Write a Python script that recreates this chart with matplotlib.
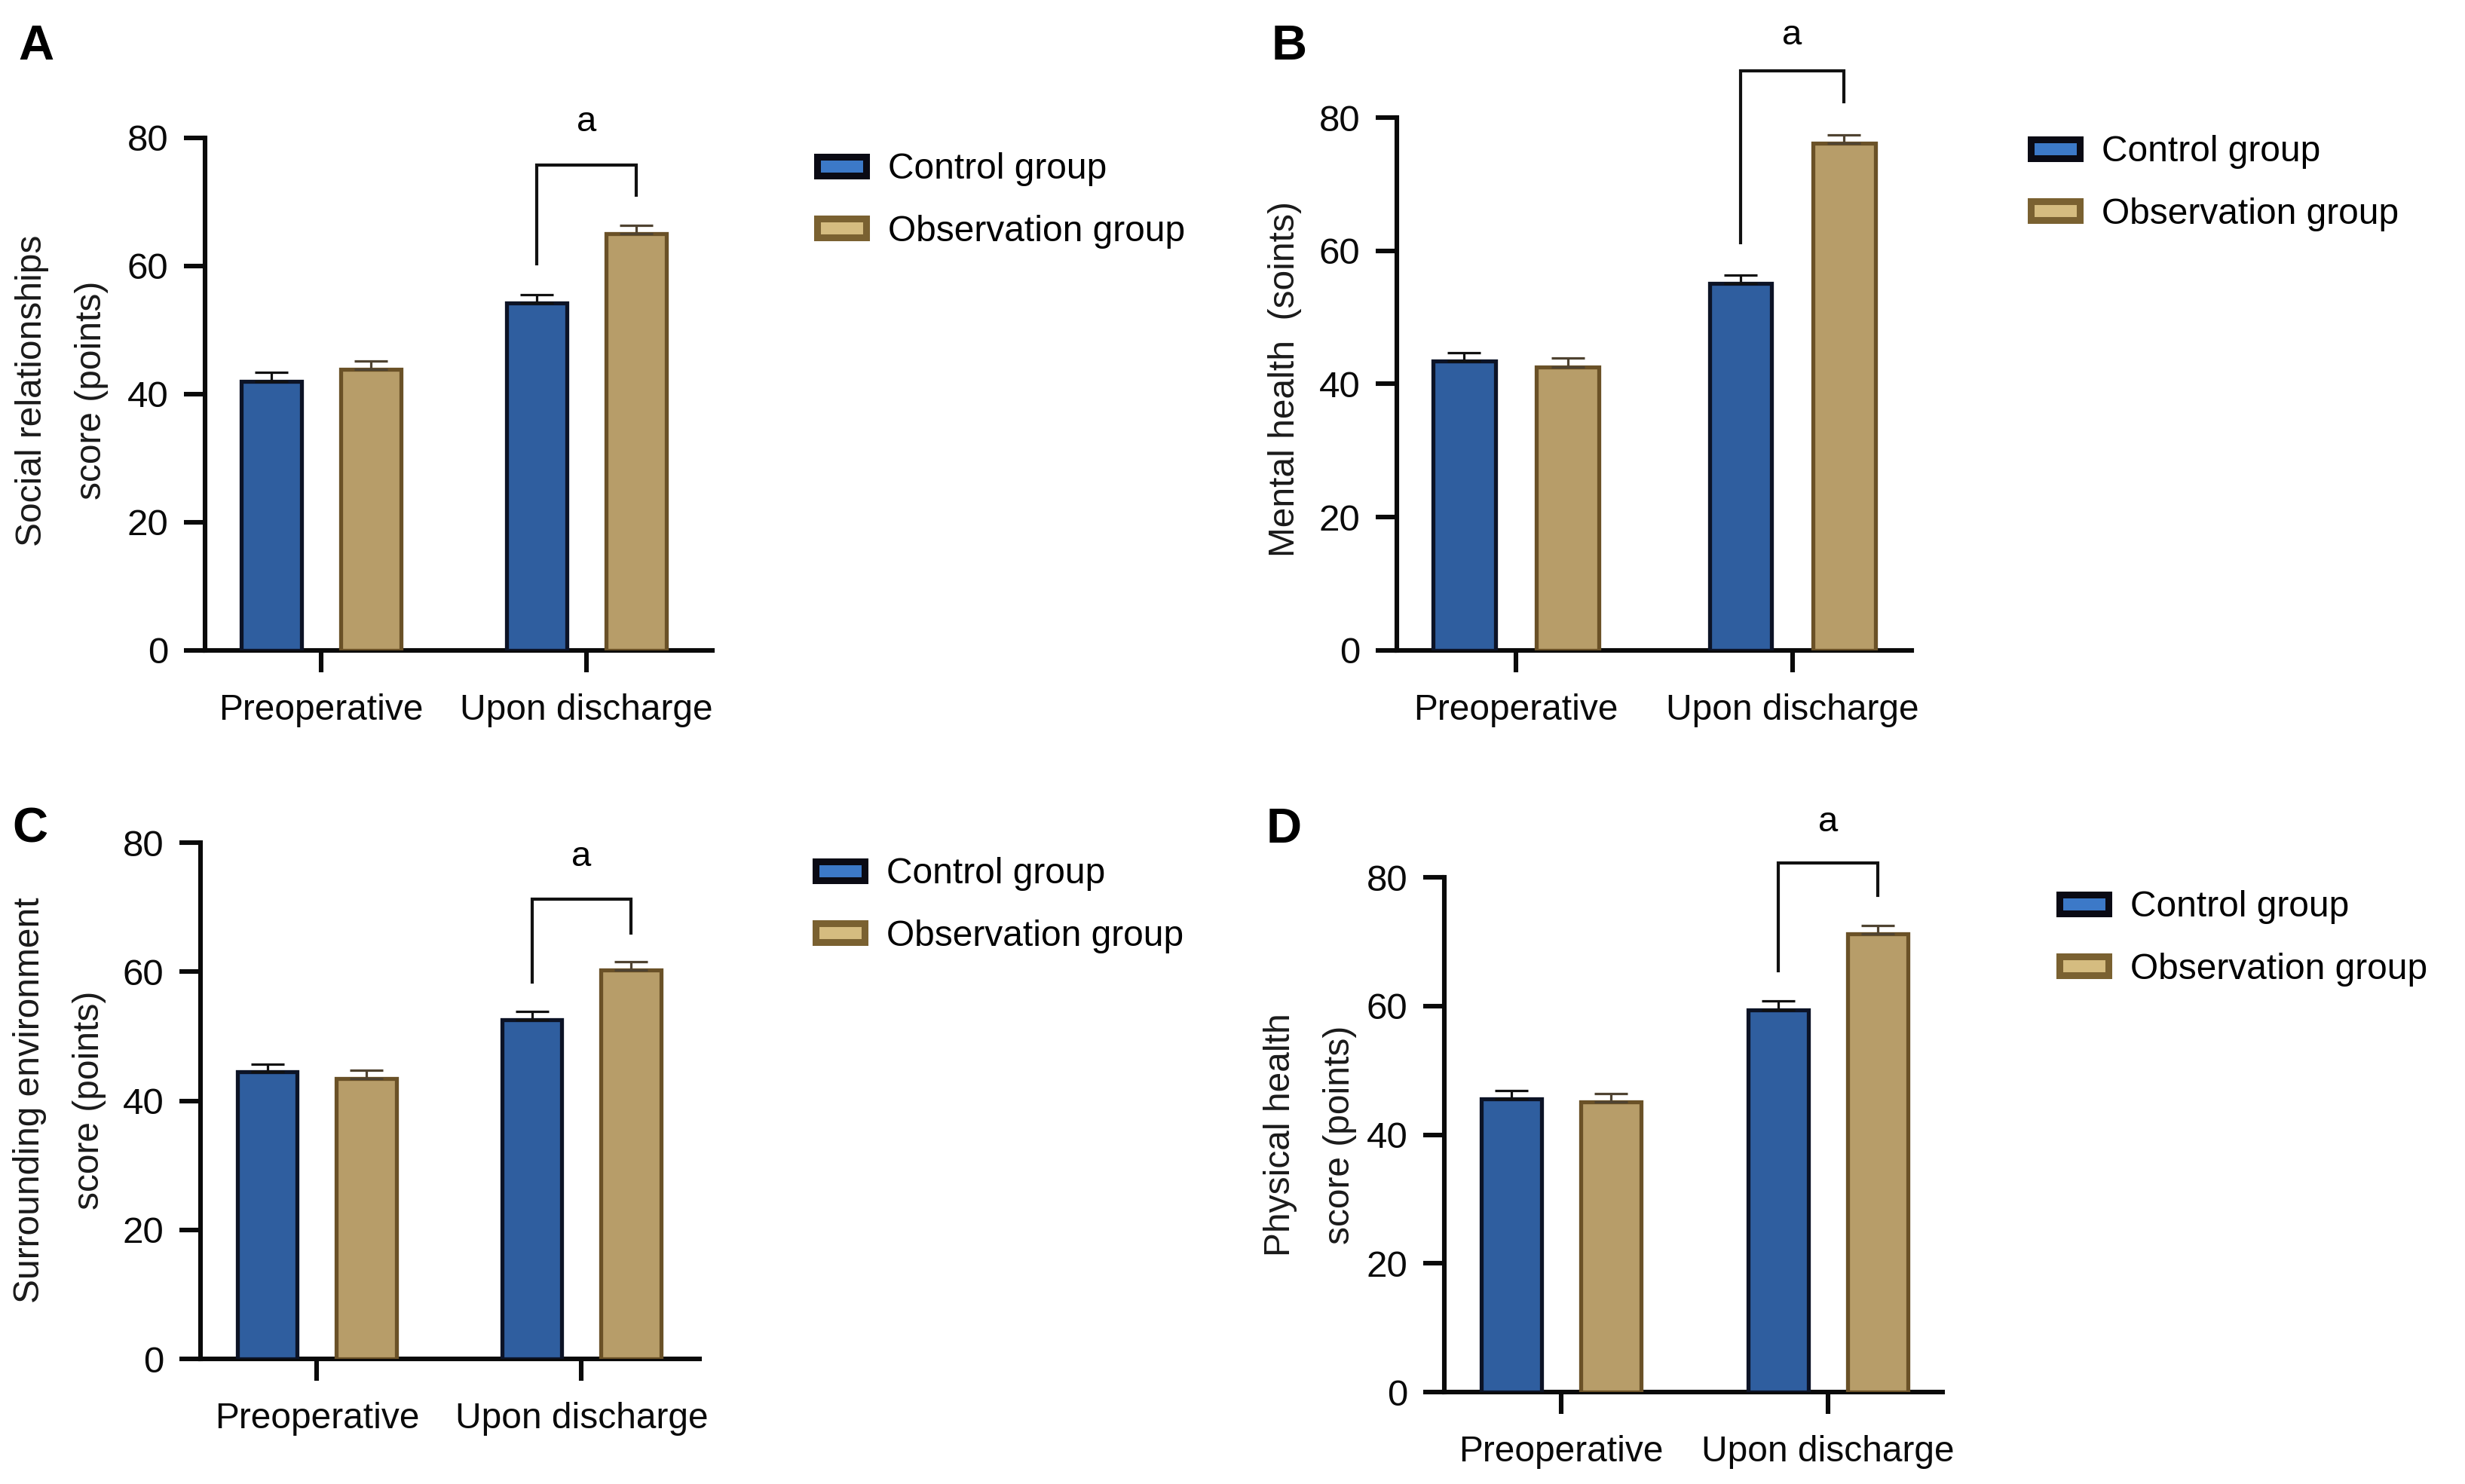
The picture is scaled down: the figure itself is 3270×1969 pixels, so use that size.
import numpy as np
import matplotlib
matplotlib.use("Agg")
import matplotlib.pyplot as plt
from matplotlib.patches import Patch

plt.rcParams['font.family'] = ['Liberation Sans', 'DejaVu Sans']

# ---------------- data ----------------
groups = ["Preoperative", "Upon discharge"]
series = ["Control group", "Observation group"]
yticks = [0, 20, 40, 60, 80]
sig_label = "a"

A_control = [42.0, 54.2]
A_obs = [43.9, 65.0]
A_control_err = [1.4, 1.3]
A_obs_err = [1.3, 1.3]
A_ylabel = "Social relationships\nscore (points)"
A_bracket = [60.3, 75.8, 71.0, 82.5]   # left leg bottom, top, right leg bottom, label y

B_control = [43.4, 55.1]
B_obs = [42.6, 76.1]
B_control_err = [1.3, 1.3]
B_obs_err = [1.3, 1.3]
B_ylabel = "Mental health  (soints)"
B_bracket = [61.2, 87.0, 82.4, 92.3]

C_control = [44.5, 52.6]
C_obs = [43.5, 60.3]
C_control_err = [1.2, 1.2]
C_obs_err = [1.2, 1.2]
C_ylabel = "Surrounding environment\nscore (points)"
C_bracket = [58.4, 71.2, 66.0, 77.8]

D_control = [45.6, 59.4]
D_obs = [45.1, 71.2]
D_control_err = [1.3, 1.4]
D_obs_err = [1.3, 1.3]
D_ylabel = "Physical health\nscore (points)"
D_bracket = [65.5, 82.2, 77.2, 88.5]

# ---------------- style ----------------
W, H = 3270, 1969
blue, blue_edge = '#2F5E9F', '#0C1326'
tan, tan_edge = '#B79D69', '#6A5127'
leg_blue, leg_blue_edge = '#3C79C8', '#0A0A14'
leg_tan, leg_tan_edge = '#D5BC80', '#7A6131'
err_blue, err_tan = '#111111', '#4F4331'

fig = plt.figure(figsize=(W / 100, H / 100), dpi=100)
fig.patch.set_facecolor('white')

panels = [
    dict(letter='A', control=A_control, obs=A_obs, cerr=A_control_err, oerr=A_obs_err,
         ylabel=A_ylabel, bracket=A_bracket,
         rect=(272, 945, 183, 863), xlim=(-0.4375, 1.474),
         letter_xy=(48, 62), ylabel_xy=(82, 518), legend_xy=(1084, 266)),
    dict(letter='B', control=B_control, obs=B_obs, cerr=B_control_err, oerr=B_obs_err,
         ylabel=B_ylabel, bracket=B_bracket,
         rect=(1853, 2536, 156, 863), xlim=(-0.431, 1.432),
         letter_xy=(1710, 62), ylabel_xy=(1704, 503), legend_xy=(2694, 243)),
    dict(letter='C', control=C_control, obs=C_obs, cerr=C_control_err, oerr=C_obs_err,
         ylabel=C_ylabel, bracket=C_bracket,
         rect=(266, 928, 1118, 1803), xlim=(-0.44, 1.446),
         letter_xy=(40, 1100), ylabel_xy=(79, 1460), legend_xy=(1082, 1201)),
    dict(letter='D', control=D_control, obs=D_obs, cerr=D_control_err, oerr=D_obs_err,
         ylabel=D_ylabel, bracket=D_bracket,
         rect=(1916, 2577, 1164, 1847), xlim=(-0.438, 1.43),
         letter_xy=(1703, 1101), ylabel_xy=(1738, 1506), legend_xy=(2732, 1245)),
]

d = 0.187      # half distance between paired bars
w = 0.226      # bar width
x = np.arange(len(groups))

for p in panels:
    l, r, t, b = p['rect']
    ax = fig.add_axes([l / W, 1 - b / H, (r - l) / W, (b - t) / H])
    ax.set_facecolor('none')

    ax.bar(x - d, p['control'], w, color=blue, edgecolor=blue_edge, linewidth=3.8, zorder=3)
    ax.bar(x + d, p['obs'], w, color=tan, edgecolor=tan_edge, linewidth=3.8, zorder=3)
    ax.errorbar(x - d, p['control'], yerr=[[0] * len(x), p['cerr']], fmt='none',
                ecolor=err_blue, elinewidth=2.3, capsize=16, capthick=2.3, zorder=4)
    ax.errorbar(x + d, p['obs'], yerr=[[0] * len(x), p['oerr']], fmt='none',
                ecolor=err_tan, elinewidth=2.3, capsize=16, capthick=2.3, zorder=4)

    lb, top, rb, ya = p['bracket']
    xl, xr = x[1] - d, x[1] + d
    ax.plot([xl, xl, xr, xr], [lb, top, top, rb], color='#111111', lw=3.0,
            clip_on=False, solid_joinstyle='miter', zorder=5)
    ax.text(x[1], ya, sig_label, ha='center', va='center', fontsize=34, clip_on=False)

    ax.set_xlim(*p['xlim'])
    ax.set_ylim(0, 80)
    ax.set_yticks(yticks)
    ax.set_yticklabels([str(v) for v in yticks], fontsize=35.5)
    ax.set_xticks(x)
    ax.set_xticklabels(groups, fontsize=34.5)
    for s in ['top', 'right']:
        ax.spines[s].set_visible(False)
    for s in ['left', 'bottom']:
        ax.spines[s].set_linewidth(4.4)
        ax.spines[s].set_color('#0A0A0A')
    ax.tick_params(axis='y', direction='out', length=20, width=4.4, pad=15, colors='#0A0A0A')
    ax.tick_params(axis='x', direction='out', length=21, width=4.4, pad=20, colors='#0A0A0A')

    lx, ly = p['letter_xy']
    fig.text(lx / W, 1 - ly / H, p['letter'], fontsize=47, fontweight='bold',
             ha='center', va='center')

    yx, yy = p['ylabel_xy']
    fig.text(yx / W, 1 - yy / H, p['ylabel'], rotation=90, ha='center', va='center',
             multialignment='center', fontsize=34.5, linespacing=1.95, color='#1A1A1A')

    handles = [Patch(facecolor=leg_blue, edgecolor=leg_blue_edge, linewidth=6.5, label=series[0]),
               Patch(facecolor=leg_tan, edgecolor=leg_tan_edge, linewidth=6.5, label=series[1])]
    gx, gy = p['legend_xy']
    fig.legend(handles=handles, loc='center left', bbox_to_anchor=(gx / W, 1 - gy / H),
               frameon=False, fontsize=34.5, handlelength=1.35, handleheight=0.42,
               handletextpad=0.62, labelspacing=0.78, borderpad=0, borderaxespad=0)

fig.savefig('out.png', dpi=100, facecolor='white')
